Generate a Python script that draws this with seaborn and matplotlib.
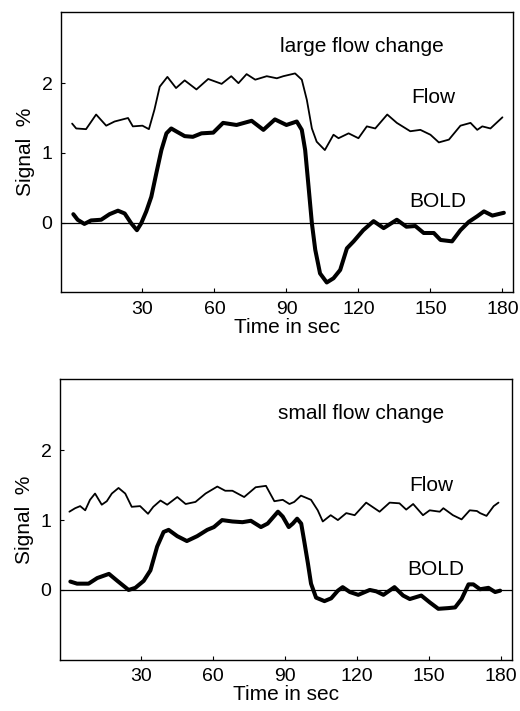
import matplotlib
matplotlib.use("Agg")
import matplotlib.pyplot as plt
import seaborn as sns

# top panel: large flow change
large_flow_t = [0.7, 2.4, 6.5, 10.7, 14.9, 18.4, 24, 26, 30, 32.7, 35, 37.2, 40.4, 44, 47.6,
                52.5, 57.4, 63, 67, 70, 73.4, 77, 81.8, 86, 88.7, 93.6, 96.4, 98.5, 100.6,
                102.6, 106, 109.6, 111.7, 115.9, 120, 123.5, 127, 132, 136, 141.6, 145.8,
                150, 153.5, 157.7, 162.5, 166.7, 169.5, 171.6, 175, 180]
large_flow_v = [1.42, 1.35, 1.34, 1.55, 1.39, 1.45, 1.50, 1.38, 1.39, 1.34, 1.62, 1.95, 2.09,
                1.93, 2.04, 1.91, 2.06, 1.99, 2.10, 2.00, 2.13, 2.05, 2.10, 2.07, 2.10, 2.14,
                2.05, 1.76, 1.35, 1.16, 1.04, 1.26, 1.21, 1.28, 1.21, 1.38, 1.35, 1.55, 1.43,
                1.31, 1.33, 1.26, 1.15, 1.19, 1.39, 1.43, 1.33, 1.38, 1.35, 1.51]
large_bold_t = [1.2, 3, 5.8, 8.6, 12.8, 16.3, 19.8, 22.6, 25.3, 27.7, 29.5, 31.6, 33.7, 35.8,
                37.9, 40, 42, 44, 47.6, 51, 54.6, 59.5, 63.6, 69.2, 75.5, 80.4, 85.2, 90,
                94.3, 96.4, 97.8, 99.2, 100.6, 102, 104, 106.8, 109.6, 112.4, 115.2, 118,
                122, 126.3, 130.5, 136, 140, 143.7, 147.2, 151.4, 154.2, 159, 162.5, 166,
                169.5, 172.3, 175.8, 180.6]
large_bold_v = [0.12, 0.04, -0.02, 0.03, 0.04, 0.12, 0.17, 0.13, -0.01, -0.11, -0.01, 0.16,
                0.37, 0.71, 1.04, 1.28, 1.35, 1.31, 1.24, 1.23, 1.28, 1.29, 1.43, 1.40, 1.46,
                1.33, 1.48, 1.40, 1.45, 1.33, 1.04, 0.52, -0.01, -0.39, -0.73, -0.86, -0.80,
                -0.68, -0.37, -0.27, -0.11, 0.02, -0.08, 0.04, -0.06, -0.05, -0.15, -0.15,
                -0.25, -0.27, -0.11, 0.01, 0.09, 0.16, 0.10, 0.14]

# bottom panel: small flow change
small_flow_t = [0, 2.4, 4.5, 6.6, 8.6, 10.7, 13.5, 15.6, 17.7, 20.5, 23.3, 26, 29.5, 32.8, 35,
                38, 40.8, 45, 48.5, 52.6, 56.8, 61.7, 65, 68, 72.9, 77.7, 82, 85.5, 89, 91.8,
                93.8, 96.6, 100.8, 103.6, 105.7, 109, 112, 115.5, 119, 123.8, 129.4, 133.6,
                137.7, 140.5, 143.4, 147.5, 150.3, 154.5, 156, 160, 163.6, 167, 170, 171.3,
                174, 177, 179]
small_flow_v = [1.12, 1.17, 1.20, 1.14, 1.29, 1.38, 1.22, 1.27, 1.38, 1.46, 1.38, 1.19, 1.20,
                1.09, 1.19, 1.28, 1.22, 1.33, 1.23, 1.26, 1.38, 1.48, 1.42, 1.42, 1.33, 1.47,
                1.49, 1.27, 1.29, 1.23, 1.26, 1.35, 1.29, 1.14, 0.98, 1.07, 1.00, 1.10, 1.07,
                1.25, 1.12, 1.25, 1.24, 1.15, 1.23, 1.07, 1.14, 1.12, 1.17, 1.07, 1.01, 1.14,
                1.13, 1.10, 1.06, 1.20, 1.25]
small_bold_t = [0.4, 3.2, 8, 11.6, 16.5, 20, 24.7, 27.5, 31, 33.8, 36.6, 39.3, 41.4, 45, 49,
                53.3, 57.5, 60.3, 63.7, 68, 72.2, 75.7, 79.9, 82.7, 87, 89, 91.5, 93.2, 95,
                96.7, 98, 99.5, 100.8, 102.9, 106.4, 109.2, 112, 114, 117, 120.5, 125.3, 128,
                131, 135.6, 139.2, 142, 146.8, 150.4, 153.9, 158, 160.9, 163.6, 166.5, 168.5,
                171.3, 174.8, 177.6, 179.7]
small_bold_v = [0.12, 0.09, 0.09, 0.17, 0.23, 0.13, 0.00, 0.03, 0.13, 0.28, 0.62, 0.83, 0.86,
                0.77, 0.70, 0.77, 0.86, 0.90, 1.00, 0.98, 0.97, 0.99, 0.90, 0.95, 1.12, 1.05,
                0.90, 0.95, 1.02, 0.95, 0.69, 0.38, 0.09, -0.11, -0.16, -0.12, -0.01, 0.04,
                -0.03, -0.07, 0.00, -0.02, -0.07, 0.04, -0.08, -0.13, -0.08, -0.18, -0.27,
                -0.26, -0.25, -0.13, 0.08, 0.08, 0.01, 0.03, -0.03, -0.01]

panel_titles = ["large flow change", "small flow change"]
flow_label_y = [1.80, 1.49]
bold_label_y = [0.30, 0.29]
y_ticks = [0, 1, 2]
x_ticks = [30, 60, 90, 120, 150, 180]

sns.set_style("ticks")
plt.rcParams["font.family"] = ["Liberation Sans", "DejaVu Sans"]
plt.rcParams["text.color"] = "black"
plt.rcParams["axes.labelcolor"] = "black"

fig = plt.figure(figsize=(5.2, 7.11), dpi=100)
ax_top = fig.add_axes([0.117, 0.589, 0.870, 0.394])
ax_bot = fig.add_axes([0.115, 0.072, 0.869, 0.395])

panels = [
    (ax_top, large_flow_t, large_flow_v, large_bold_t, large_bold_v),
    (ax_bot, small_flow_t, small_flow_v, small_bold_t, small_bold_v),
]

for i, (ax, ft, fv, bt, bv) in enumerate(panels):
    ax.axhline(0, color="black", lw=0.9, zorder=1)
    sns.lineplot(x=ft, y=fv, ax=ax, color="black", lw=1.3, sort=False, estimator=None)
    sns.lineplot(x=bt, y=bv, ax=ax, color="black", lw=2.9, sort=False, estimator=None)
    ax.set_xlim(-4, 184.5)
    ax.set_ylim(-1, 3.02)
    ax.set_xticks(x_ticks)
    ax.set_yticks(y_ticks)
    ax.tick_params(direction="in", length=3, width=0.8, labelsize=14, pad=6, colors="black")
    for sp in ax.spines.values():
        sp.set_linewidth(1.0)
        sp.set_color("black")
    ax.set_xlabel("Time in sec", fontsize=15, labelpad=0)
    ax.set_ylabel("Signal  %", fontsize=15, labelpad=5)
    ax.text(121.6, 2.52, panel_titles[i], fontsize=15, ha="center", va="center")
    ax.text(151, flow_label_y[i], "Flow", fontsize=15, ha="center", va="center")
    ax.text(153, bold_label_y[i], "BOLD", fontsize=15, ha="center", va="center")

fig.savefig("out.png", dpi=100)
